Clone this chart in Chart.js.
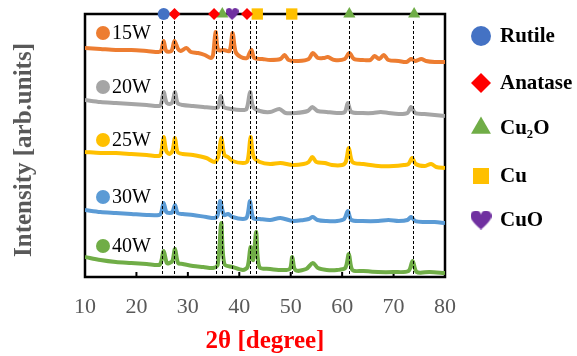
<!DOCTYPE html>
<html>
<head>
<meta charset="utf-8">
<script src="https://cdn.jsdelivr.net/npm/chart.js@4"></script>
<style>
  html, body { margin: 0; padding: 0; background: #fff; }
  #wrap { width: 577px; height: 356px; }
</style>
</head>
<body>
<div id="wrap"><canvas id="xrdChart" width="577" height="356"></canvas></div>
<script>
// XRD patterns: [2theta (deg), intensity (arb. units, stacked)]
const w15 = [[10,229],[13,228],[16,227],[19,227],[22,226],[24.3,225],[24.8,226],[25.3,236],[25.8,226],[26.8,226],[27.4,236],[28.1,228],[28.6,226],[29.7,229],[30.6,225],[32,224],[33.3,222],[34.5,219],[34.9,222],[35.4,245],[35.9,227],[37,227],[38.1,226],[38.7,244],[39.3,225],[40.3,220],[41.5,219],[42.0,224],[42.4,227],[42.9,219],[44.5,218],[46,217],[48,218],[48.8,222],[49.6,217],[51.5,216],[53.5,218],[54.3,224],[55.3,219],[56.5,219],[57.2,220],[58.5,217],[60.5,218],[61.4,224],[62.3,218],[64,217],[65.5,217],[66.3,221],[67.2,218],[68.1,222],[69,217],[71,216],[72.5,215],[73.4,218],[74.2,216],[75.4,218],[76.3,216],[78,215],[80,215]];
const w20 = [[10,177],[13,175],[16,174],[19,173],[22,172],[24.4,171],[24.8,173],[25.3,185],[25.8,175],[26.4,173],[27.0,175],[27.5,185],[28.0,174],[29,172],[31,171],[33,170],[35.2,169],[35.9,170],[36.4,181],[37.0,170],[38.5,168],[40.3,167],[41.4,168],[42.1,185],[42.7,170],[44,166],[46,165],[47.8,168],[49,164],[51,164],[53.3,166],[54.2,170],[55.2,166],[57,165],[59,164],[60.5,165],[61.1,174],[61.8,165],[64,164],[66,164],[67.5,165],[69,164],[71,163],[72.7,164],[73.4,170],[74.2,164],[76,163],[78,162],[80,161]];
const w25 = [[10,125],[13,124],[16,124],[19,123],[22,122],[24.4,121],[24.8,124],[25.3,140],[25.8,126],[26.4,123],[27.0,126],[27.5,139],[28.0,125],[29,123],[31,122],[33.6,119],[35.2,115],[35.9,120],[36.5,139],[37.1,122],[37.8,120],[38.7,116],[40.7,114],[41.6,116],[42.2,140],[42.8,120],[44,115],[46,113],[48,114],[50.4,112],[52.5,113],[53.5,115],[54.2,120],[55.0,115],[56.6,114],[58,112],[60,112],[60.7,115],[61.3,129],[62.0,115],[64,113],[67,111],[70,111],[72,112],[72.9,113],[73.6,119],[74.3,113],[76,111],[77.3,113],[78.3,110],[80,109]];
const w30 = [[10,67],[13,65],[16,64],[19,63],[22,62],[24.4,62],[24.8,64],[25.3,74],[25.8,65],[26.4,64],[27.0,65],[27.5,72],[28.0,64],[29,63],[31,62],[33.6,60],[35.2,59],[35.8,62],[36.3,76],[37.0,62],[37.8,63],[38.7,60],[40.7,58],[41.5,60],[42.1,76],[42.7,59],[44,58],[46,57],[48,59],[50.4,56],[52.5,57],[53.5,58],[54.3,60],[55.2,57],[57,56],[59,56],[60.4,58],[61.1,66],[61.8,57],[64,56],[67,56],[69,57],[71,56],[72.7,57],[73.4,60],[74.2,56],[76,55],[78,55],[80,54]];
const w40 = [[10,20],[13,17],[16,15],[19,14],[22,13],[24.4,12],[24.8,15],[25.3,26],[25.9,14],[26.4,14],[27.0,16],[27.5,28],[28.1,14],[29,13],[31,11],[33,10],[34.9,9],[35.8,12],[36.5,54],[37.1,13],[38.7,10],[40.7,7],[41.6,10],[42.2,30],[42.7,17],[43.3,45],[43.9,10],[46,8],[48,7],[49.8,8],[50.3,20],[50.9,7],[53,8],[54.3,14],[55.3,9],[57,7],[59,7],[60.6,9],[61.3,23],[62.0,7],[64,6],[67,5],[70,5],[72.9,6],[73.7,16],[74.5,5],[77,5],[80,4]];

const seriesNames = ["15W", "20W", "25W", "30W", "40W"];
const seriesData = [w15, w20, w25, w30, w40];
const xTicks = [10, 20, 30, 40, 50, 60, 70, 80];

// phase reference peaks (2theta)
const phaseNames = ["Rutile", "Anatase", "Cu\u2082O", "Cu", "CuO"];
const phasePeaks = [[25.3], [27.4, 35.1, 41.5], [36.7, 61.4, 74.0], [43.5, 50.2], [38.6]];
const refLines = [25.0, 27.4, 35.4, 36.6, 38.5, 42.1, 43.3, 50.2, 61.4, 73.7];

const yMax = 263;
const seriesColors = ["#ED7D31", "#A5A5A5", "#FFC000", "#5B9BD5", "#70AD47"];
const phaseColors = ["#4472C4", "#FF0000", "#70AD47", "#FFC000", "#7030A0"];

function makeHeart(w, h, color) {
  var cv = document.createElement("canvas");
  cv.width = w;
  cv.height = h;
  var c = cv.getContext("2d");
  c.fillStyle = color;
  c.beginPath();
  c.moveTo(w / 2, h);
  c.bezierCurveTo(w * 0.1, h * 0.62, 0, h * 0.45, 0, h * 0.28);
  c.bezierCurveTo(0, h * 0.08, w * 0.15, 0, w * 0.28, 0);
  c.bezierCurveTo(w * 0.4, 0, w * 0.48, h * 0.1, w / 2, h * 0.22);
  c.bezierCurveTo(w * 0.52, h * 0.1, w * 0.6, 0, w * 0.72, 0);
  c.bezierCurveTo(w * 0.85, 0, w, h * 0.08, w, h * 0.28);
  c.bezierCurveTo(w, h * 0.45, w * 0.9, h * 0.62, w / 2, h);
  c.fill();
  return cv;
}

const smallHeart = makeHeart(13, 12, phaseColors[4]);
const bigHeart = makeHeart(21, 19, phaseColors[4]);
const phaseStyles = ["circle", "rectRot", "triangle", "rect", smallHeart];
const phaseRadius = [6, 6, 7, 8, 6];
const legendStyles = ["circle", "rectRot", "triangle", "rect", bigHeart];
const legendRadius = [10, 10, 11.5, 11.3, 10];

// where the sample labels sit (y in axis units)
const labelLevels = [244, 190, 137, 80, 31];
const legendY = [36, 83, 128, 176, 220];

const serif = "'Liberation Serif', 'Times New Roman', serif";

const datasets = [];
phaseNames.forEach((name, i) => {
  datasets.push({
    label: name,
    data: phasePeaks[i].map((x) => ({ x: x, y: yMax })),
    showLine: false,
    pointStyle: phaseStyles[i],
    pointRadius: phaseRadius[i],
    pointBackgroundColor: phaseColors[i],
    pointBorderColor: phaseColors[i],
    pointBorderWidth: 0,
    clip: false,
    order: 0,
  });
});
seriesData.forEach((d, i) => {
  datasets.push({
    label: seriesNames[i],
    data: d.map((p) => ({ x: p[0], y: p[1] })),
    borderColor: seriesColors[i],
    borderWidth: 4,
    pointRadius: 0,
    tension: 0.3,
    fill: false,
    order: 1,
  });
});

const decorPlugin = {
  id: "decor",
  beforeDatasetsDraw(chart) {
    const { ctx, chartArea: a, scales } = chart;
    ctx.save();
    // inner ticks
    ctx.strokeStyle = "#000";
    ctx.lineWidth = 2;
    xTicks.forEach((t) => {
      const px = scales.x.getPixelForValue(t);
      ctx.beginPath();
      ctx.moveTo(px, a.bottom);
      ctx.lineTo(px, a.bottom - 5);
      ctx.stroke();
    });
    // frame
    ctx.lineWidth = 2.5;
    ctx.strokeRect(a.left, a.top, a.right - a.left, a.bottom - a.top);
    ctx.restore();
  },
  afterDatasetsDraw(chart) {
    const { ctx, chartArea: a, scales } = chart;
    ctx.save();
    ctx.strokeStyle = "#000";
    ctx.lineWidth = 1;
    ctx.setLineDash([3, 2]);
    refLines.forEach((v) => {
      const px = Math.round(scales.x.getPixelForValue(v)) + 0.5;
      ctx.beginPath();
      ctx.moveTo(px, a.top + 7);
      ctx.lineTo(px, a.bottom);
      ctx.stroke();
    });
    ctx.restore();
  },
  afterDraw(chart) {
    const { ctx, chartArea: a, scales } = chart;
    ctx.save();
    // sample labels
    ctx.textBaseline = "middle";
    ctx.textAlign = "left";
    seriesNames.forEach((name, i) => {
      const py = scales.y.getPixelForValue(labelLevels[i]);
      ctx.fillStyle = seriesColors[i];
      ctx.beginPath();
      ctx.arc(a.left + 18, py, 7, 0, Math.PI * 2);
      ctx.fill();
      ctx.fillStyle = "#000";
      ctx.font = "20px " + serif;
      ctx.fillText(name, a.left + 27, py + 1);
    });

    // legend
    phaseNames.forEach((name, i) => {
      const py = legendY[i];
      ctx.fillStyle = phaseColors[i];
      ctx.strokeStyle = phaseColors[i];
      Chart.helpers.drawPoint(ctx, { pointStyle: legendStyles[i], radius: legendRadius[i], rotation: 0, borderWidth: 0 }, 481, py);
      ctx.fillStyle = "#000";
      ctx.font = "bold 21px " + serif;
      ctx.fillText(name, 500, py + 1);
    });

    // axis titles
    ctx.fillStyle = "#FF0000";
    ctx.font = "bold 25px " + serif;
    ctx.textAlign = "center";
    ctx.fillText("2\u03b8 [degree]", (a.left + a.right) / 2, 342);

    ctx.translate(25, 150);
    ctx.rotate(-Math.PI / 2);
    ctx.fillStyle = "#595959";
    ctx.font = "bold 25px " + serif;
    ctx.fillText("Intensity [arb.units]", 0, 0);
    ctx.restore();
  },
};

Chart.defaults.font.family = serif;

var ctx = document.getElementById("xrdChart").getContext("2d");
var xrdChart = new Chart(ctx, {
  type: "line",
  data: { datasets: datasets },
  options: {
    responsive: false,
    animation: false,
    devicePixelRatio: 1,
    layout: { padding: { left: 85, top: 14, right: 132, bottom: 0 } },
    plugins: { legend: { display: false }, tooltip: { enabled: false } },
    scales: {
      x: {
        type: "linear",
        min: 10,
        max: 80,
        grid: { display: false, drawTicks: false },
        border: { display: false },
        ticks: {
          stepSize: 10,
          padding: 17,
          color: "#595959",
          font: { size: 22, family: serif },
        },
        afterFit: (s) => {
          s.height = 79;
        },
      },
      y: {
        display: false,
        min: 0,
        max: yMax,
      },
    },
  },
  plugins: [decorPlugin],
});
</script>
</body>
</html>
